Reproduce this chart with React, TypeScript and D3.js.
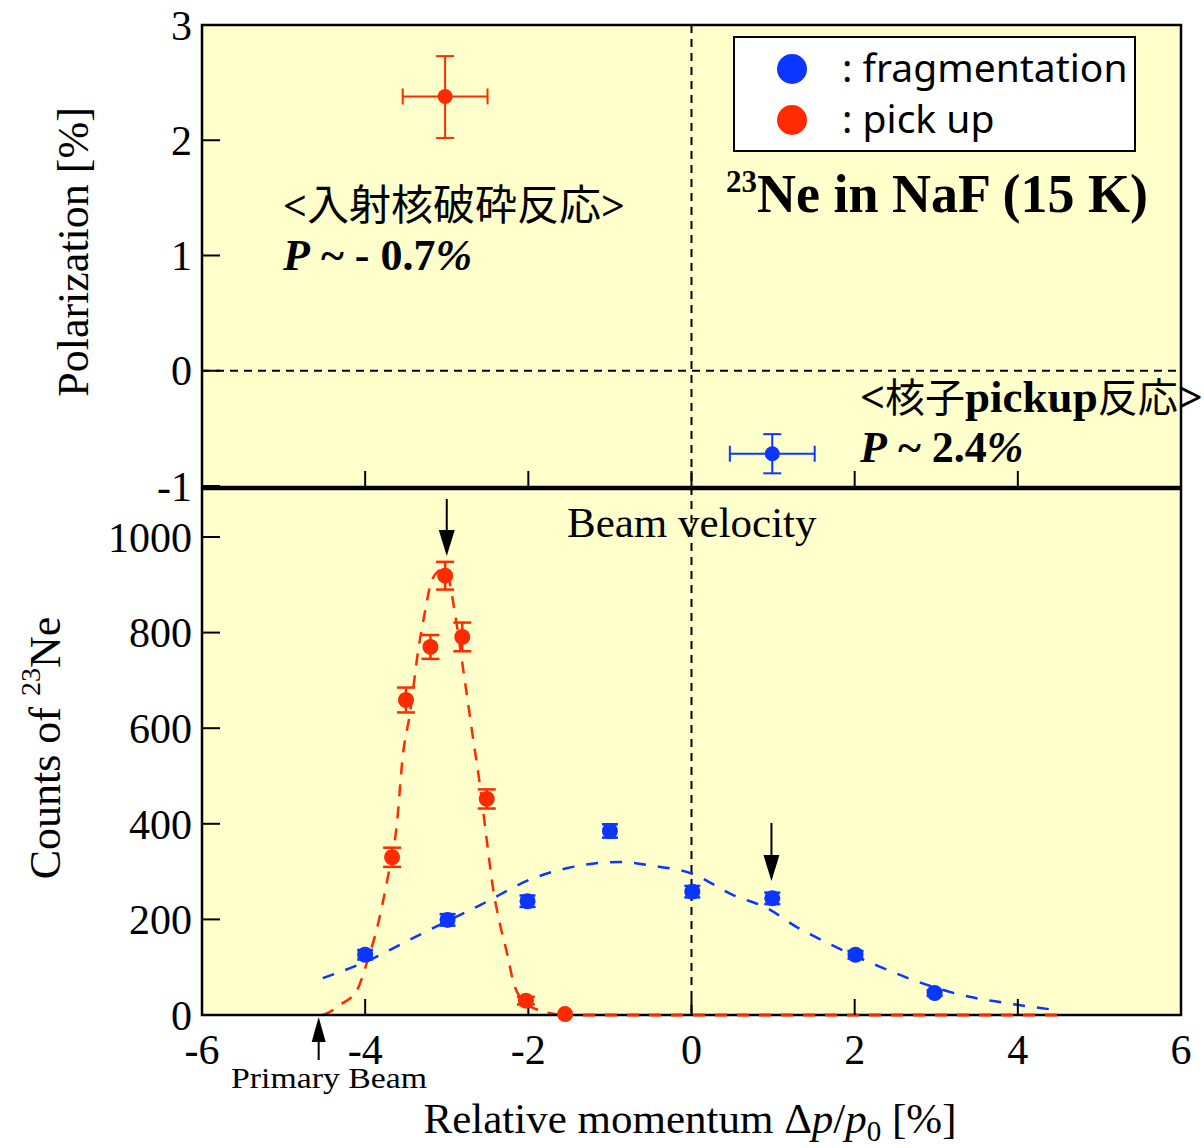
import React from "react";
import * as d3 from "d3";

// ---- data ----
const pickX = [-3.67, -3.5, -3.2, -3.02, -2.81, -2.51, -2.03, -1.55];
const pickY = [330, 659, 770, 919, 791, 452, 30, 2];
const pickErr = [20, 26, 25, 29, 30, 20, 8, 0];

const fragX = [-4.0, -2.99, -2.01, -1.0, 0.01, 0.99, 2.01, 2.98];
const fragY = [126, 199, 238, 385, 258, 244, 126, 46];
const fragErr = [10, 12, 12, 14, 12, 12, 8, 6];

// fit curves
const pickFitX = [-4.52, -4.45, -4.3, -4.1, -3.98, -3.84, -3.73, -3.61, -3.54, -3.45, -3.35, -3.27, -3.2, -3.12, -3.05, -2.98, -2.9, -2.78, -2.68, -2.59, -2.51, -2.43, -2.35, -2.25, -2.19, -2.07, -1.9, -1.76, -1.6];
const pickFitY = [0, 5, 22, 52, 109, 192, 282, 402, 540, 632, 763, 841, 900, 926, 932, 915, 841, 701, 582, 477, 366, 262, 192, 121, 73, 30, 12, 5, 0];
const pickZeroX = [-1.6, 4.55];

const fragFitX = [-4.52, -4.0, -3.39, -2.59, -1.94, -1.53, -0.88, -0.47, 0.0, 0.51, 0.92, 1.29, 1.64, 2.35, 2.72, 3.41, 3.78, 4.48];
const fragFitY = [77, 111, 163, 230, 286, 307, 320, 312, 296, 251, 224, 184, 153, 98, 73, 38, 27, 10];

// top panel polarization points
const polPick = { x: -3.02, y: 2.38, xe: 0.52, yLo: 2.02, yHi: 2.73 };
const polFrag = { x: 0.99, y: -0.72, xe: 0.52, yLo: -0.89, yHi: -0.55 };

const xTicks = [-6, -4, -2, 0, 2, 4, 6];
const yTopTicks = [-1, 0, 1, 2, 3];
const yBotTicks = [0, 200, 400, 600, 800, 1000];

const RED = "#ff2a00";
const BLUE = "#0a36ff";
const BG = "#ffffcc";
const SERIF = "'Liberation Serif', 'Times New Roman', serif";
const CJK = "'Noto Sans CJK JP', sans-serif";

export default function App() {
  const L = 202, R = 1181, T1 = 25, B1 = 487, B2 = 1015;
  const x = d3.scaleLinear().domain([-6, 6]).range([L, R]);
  const yT = d3.scaleLinear().domain([-1, 3]).range([486, 25]);
  const yB = d3.scaleLinear().domain([0, 1000]).range([B2, 537]);

  const line = d3
    .line<[number, number]>()
    .x((d) => x(d[0]))
    .y((d) => yB(d[1]))
    .curve(d3.curveMonotoneX);

  const pickFit = pickFitX.map((v, i) => [v, pickFitY[i]] as [number, number]);
  const fragFit = fragFitX.map((v, i) => [v, fragFitY[i]] as [number, number]);
  const tickFont = 42;

  const arrowDown = (cx: number, y0: number, tip: number) => (
    <g>
      <line x1={cx} x2={cx} y1={y0} y2={tip - 20} stroke="#000" strokeWidth={2} />
      <path d={`M${cx - 8},${tip - 26} L${cx + 8},${tip - 26} L${cx},${tip} Z`} fill="#000" />
    </g>
  );

  const errPoint = (key: string, px: number, py: number, lo: number, hi: number, color: string, cap = 9, r = 8) => (
    <g key={key}>
      {Math.abs(hi - lo) > 1 && (
        <>
          <line x1={px} x2={px} y1={hi} y2={lo} stroke={color} strokeWidth={2.5} />
          <line x1={px - cap} x2={px + cap} y1={hi} y2={hi} stroke={color} strokeWidth={2.5} />
          <line x1={px - cap} x2={px + cap} y1={lo} y2={lo} stroke={color} strokeWidth={2.5} />
        </>
      )}
      <circle cx={px} cy={py} r={r} fill={color} />
    </g>
  );

  return (
    <svg
      width={1204}
      height={1148}
      style={{ position: "absolute", left: 0, top: 0, display: "block", background: "#fff" }}
    >
      {/* backgrounds */}
      <rect x={L} y={T1} width={R - L} height={B2 - T1} fill={BG} />

      {/* zero lines */}
      <line x1={x(0)} x2={x(0)} y1={T1} y2={B2} stroke="#000" strokeWidth={2} strokeDasharray="8,6" />
      <line x1={L} x2={R} y1={yT(0)} y2={yT(0)} stroke="#000" strokeWidth={2} strokeDasharray="8,6" />

      {/* fits */}
      <path d={line(fragFit) || ""} fill="none" stroke={BLUE} strokeWidth={2.5} strokeDasharray="12,12" />
      <path d={line(pickFit) || ""} fill="none" stroke={RED} strokeWidth={2.5} strokeDasharray="12,10" />

      {/* frames */}
      <rect x={L} y={T1} width={R - L} height={B1 - T1} fill="none" stroke="#000" strokeWidth={2.5} />
      <rect x={L} y={B1 + 2} width={R - L} height={B2 - B1 - 2} fill="none" stroke="#000" strokeWidth={2.5} />
      <line x1={x(pickZeroX[0])} x2={x(pickZeroX[1])} y1={B2} y2={B2} stroke={RED} strokeWidth={3} strokeDasharray="12,10" />

      {/* top panel ticks */}
      {yTopTicks.map((t) => (
        <g key={"yt" + t}>
          <line x1={L} x2={L + 18} y1={yT(t)} y2={yT(t)} stroke="#000" strokeWidth={2} />
          <text x={192} y={yT(t)} dy="0.35em" textAnchor="end" fontFamily={SERIF} fontSize={tickFont}>
            {t}
          </text>
        </g>
      ))}
      {xTicks.slice(1, -1).map((t) => (
        <line key={"xt1" + t} x1={x(t)} x2={x(t)} y1={B1} y2={B1 - 16} stroke="#000" strokeWidth={2} />
      ))}

      {/* bottom panel ticks */}
      {yBotTicks.map((t) => (
        <g key={"yb" + t}>
          <line x1={L} x2={L + 18} y1={yB(t)} y2={yB(t)} stroke="#000" strokeWidth={2} />
          <text x={192} y={yB(t)} dy="0.35em" textAnchor="end" fontFamily={SERIF} fontSize={tickFont}>
            {t}
          </text>
        </g>
      ))}
      {xTicks.map((t) => (
        <g key={"xb" + t}>
          <line x1={x(t)} x2={x(t)} y1={B2} y2={B2 - 16} stroke="#000" strokeWidth={2} />
          <text x={x(t)} y={1064} textAnchor="middle" fontFamily={SERIF} fontSize={tickFont}>
            {t}
          </text>
        </g>
      ))}

      {/* data bottom */}
      {fragX.map((v, i) =>
        errPoint("f" + i, x(v), yB(fragY[i]), yB(fragY[i] - fragErr[i]), yB(fragY[i] + fragErr[i]), BLUE, 8, 8)
      )}
      {pickX.map((v, i) =>
        errPoint("p" + i, x(v), yB(pickY[i]), yB(pickY[i] - pickErr[i]), yB(pickY[i] + pickErr[i]), RED, 9, 8)
      )}

      {/* data top */}
      {[{ p: polPick, c: RED }, { p: polFrag, c: BLUE }].map(({ p, c }, i) => (
        <g key={"pol" + i}>
          <line x1={x(p.x - p.xe)} x2={x(p.x + p.xe)} y1={yT(p.y)} y2={yT(p.y)} stroke={c} strokeWidth={2} />
          <line x1={x(p.x - p.xe)} x2={x(p.x - p.xe)} y1={yT(p.y) - 8} y2={yT(p.y) + 8} stroke={c} strokeWidth={2} />
          <line x1={x(p.x + p.xe)} x2={x(p.x + p.xe)} y1={yT(p.y) - 8} y2={yT(p.y) + 8} stroke={c} strokeWidth={2} />
          <line x1={x(p.x)} x2={x(p.x)} y1={yT(p.yHi)} y2={yT(p.yLo)} stroke={c} strokeWidth={2} />
          <line x1={x(p.x) - 9} x2={x(p.x) + 9} y1={yT(p.yHi)} y2={yT(p.yHi)} stroke={c} strokeWidth={2} />
          <line x1={x(p.x) - 9} x2={x(p.x) + 9} y1={yT(p.yLo)} y2={yT(p.yLo)} stroke={c} strokeWidth={2} />
          <circle cx={x(p.x)} cy={yT(p.y)} r={7.5} fill={c} />
        </g>
      ))}

      {/* arrows */}
      {arrowDown(x(-3.0), 499, 556)}
      {arrowDown(x(0.98), 823, 881)}
      <g>
        <line x1={x(-4.57)} x2={x(-4.57)} y1={1060} y2={1030} stroke="#000" strokeWidth={2} />
        <path d={`M${x(-4.57) - 7},${1042} L${x(-4.57) + 7},${1042} L${x(-4.57)},${1017} Z`} fill="#000" />
      </g>

      {/* legend */}
      <rect x={734} y={37} width={401} height={114} fill="#fff" stroke="#000" strokeWidth={2} />
      <circle cx={792} cy={69} r={15} fill={BLUE} />
      <circle cx={792} cy={120} r={15} fill={RED} />
      <text x={842} y={82} fontFamily="'Noto Sans', sans-serif" fontSize={39}>: fragmentation</text>
      <text x={842} y={133} fontFamily="'Noto Sans', sans-serif" fontSize={39}>: pick up</text>

      {/* title */}
      <text x={726} y={212} fontFamily={SERIF} fontWeight="bold" fontSize={54}>
        <tspan fontSize={31} dy={-20}>23</tspan>
        <tspan dy={20}>Ne in NaF (15 K)</tspan>
      </text>

      {/* annotations */}
      <text x={283} y={220} fontSize={42}>
        <tspan fontFamily={SERIF} fontWeight="bold">{"<"}</tspan>
        <tspan fontFamily={CJK}>入射核破砕反応</tspan>
        <tspan fontFamily={SERIF} fontWeight="bold">{">"}</tspan>
      </text>
      <text x={283} y={270} fontFamily={SERIF} fontWeight="bold" fontSize={44}>
        <tspan fontStyle="italic">P</tspan>
        <tspan> ~ - 0.7</tspan>
        <tspan fontStyle="italic">%</tspan>
      </text>
      <text x={860} y={412} fontSize={40}>
        <tspan fontFamily={SERIF} fontWeight="bold" fontSize={44}>{"<"}</tspan>
        <tspan fontFamily={CJK}>核子</tspan>
        <tspan fontFamily={SERIF} fontWeight="bold" fontSize={45}>pickup</tspan>
        <tspan fontFamily={CJK}>反応</tspan>
        <tspan fontFamily={SERIF} fontWeight="bold" fontSize={44}>{">"}</tspan>
      </text>
      <text x={860} y={462} fontFamily={SERIF} fontWeight="bold" fontSize={44}>
        <tspan fontStyle="italic">P</tspan>
        <tspan> ~ 2.4</tspan>
        <tspan fontStyle="italic">%</tspan>
      </text>

      <text x={567} y={537} fontFamily={SERIF} fontSize={43}>Beam velocity</text>
      <text
        x={231}
        y={1088}
        fontFamily={SERIF}
        fontSize={29}
        textLength={196}
        lengthAdjust="spacingAndGlyphs"
      >
        Primary Beam
      </text>

      {/* axis titles */}
      <text
        transform="translate(88,252) rotate(-90)"
        textAnchor="middle"
        fontFamily={SERIF}
        fontSize={44}
      >
        Polarization [%]
      </text>
      <text
        transform="translate(60,748) rotate(-90)"
        textAnchor="middle"
        fontFamily={SERIF}
        fontSize={44}
      >
        {"Counts of "}
        <tspan fontSize={28} dy={-20}>23</tspan>
        <tspan dy={20}>Ne</tspan>
      </text>
      <text x={690} y={1133} textAnchor="middle" fontFamily={SERIF} fontSize={43}>
        Relative momentum Δ<tspan fontStyle="italic">p</tspan>/<tspan fontStyle="italic">p</tspan>
        <tspan fontSize={29} dy={8}>0</tspan>
        <tspan dy={-8}> [%]</tspan>
      </text>
    </svg>
  );
}
